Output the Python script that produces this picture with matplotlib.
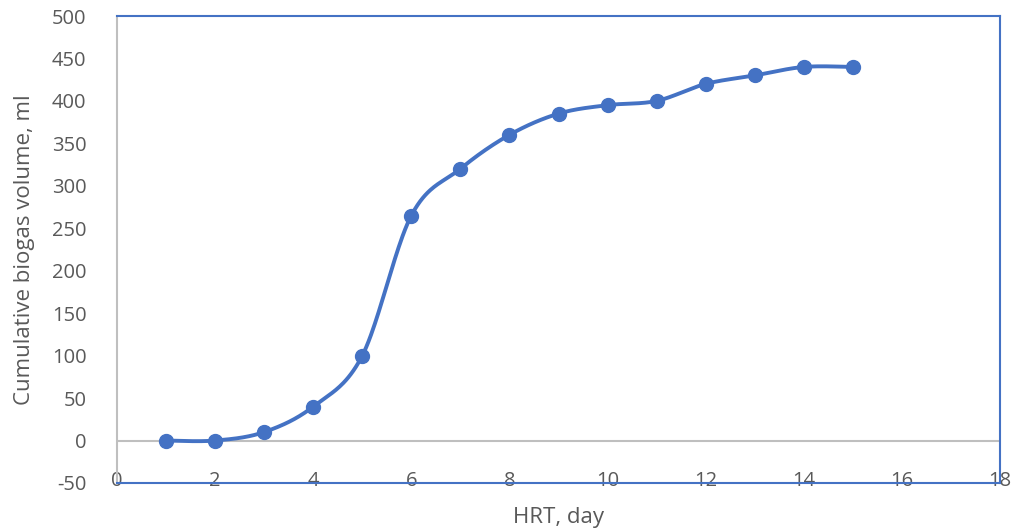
import numpy as np
import matplotlib.pyplot as plt

plt.rcParams["font.family"] = ["Open Sans", "DejaVu Sans"]
plt.rcParams["axes.unicode_minus"] = False

hrt = [1, 2, 3, 4, 5, 6, 7, 8, 9, 10, 11, 12, 13, 14, 15]
volume = [0, 0, 10, 40, 100, 265, 320, 360, 385, 395, 400, 420, 430, 440, 440]

blue = "#4472C4"
grey = "#595959"


def smooth(xs, ys, n=40):
    # Excel-like smoothing: cubic Bezier with Catmull-Rom control points
    p = np.column_stack([xs, ys]).astype(float)
    p = np.vstack([p[0], p, p[-1]])
    out = []
    for i in range(1, len(p) - 2):
        p0, p1, p2, p3 = p[i - 1], p[i], p[i + 1], p[i + 2]
        c1 = p1 + (p2 - p0) / 6
        c2 = p2 - (p3 - p1) / 6
        t = np.linspace(0, 1, n)[:, None]
        seg = ((1 - t) ** 3) * p1 + 3 * ((1 - t) ** 2) * t * c1 + 3 * (1 - t) * t ** 2 * c2 + t ** 3 * p2
        out.append(seg)
    out = np.vstack(out)
    return out[:, 0], out[:, 1]


fig = plt.figure(figsize=(10.16, 5.31), dpi=100)
ax = fig.add_axes([117 / 1016, 1 - 483 / 531, (1000 - 117) / 1016, (483 - 16) / 531])

sx, sy = smooth(hrt, volume)
ax.plot(sx, sy, color=blue, lw=2.8, zorder=3)
ax.plot(hrt, volume, "o", color=blue, ms=10, zorder=4)

ax.axhline(0, color="#BFBFBF", lw=1.5, zorder=1)

ax.set_xlim(0, 18)
ax.set_ylim(-50, 500)
ax.set_xticks(range(0, 19, 2))
ax.set_yticks(range(-50, 501, 50))

for s in ["top", "right", "bottom"]:
    ax.spines[s].set_color(blue)
    ax.spines[s].set_linewidth(1.5)
ax.spines["left"].set_color("#BFBFBF")
ax.spines["left"].set_linewidth(1.5)

ax.tick_params(axis="both", length=0, labelsize=14.5, labelcolor=grey)
ax.tick_params(axis="x", pad=-9)
ax.tick_params(axis="y", pad=22)

ax.set_xlabel("HRT, day", fontsize=16, color=grey, labelpad=12)
ax.set_ylabel("Cumulative biogas volume, ml", fontsize=16, color=grey, labelpad=12)

fig.savefig("out.png", dpi=100)
